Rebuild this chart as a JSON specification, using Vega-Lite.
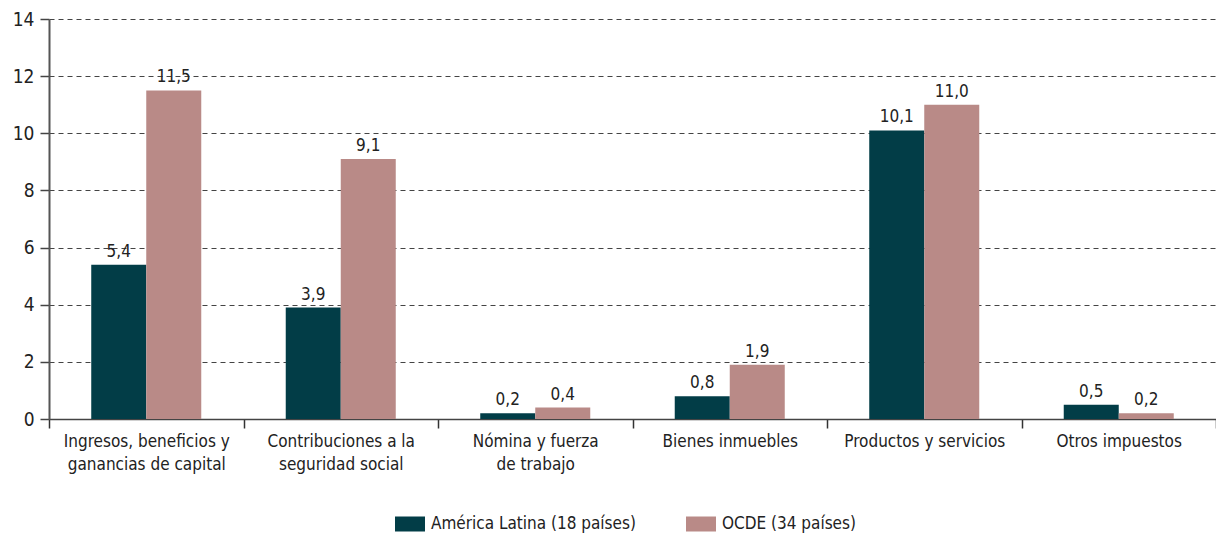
{
  "$schema": "https://vega.github.io/schema/vega-lite/v6.json",
  "width": 1167,
  "height": 400,
  "autosize": {"type": "none"},
  "padding": {"left": 49, "top": 19, "right": 0, "bottom": 117},
  "background": "white",
  "config": {
    "locale": {"number": {"decimal": ",", "thousands": ".", "grouping": [3], "currency": ["$", ""]}},
    "font": "DejaVu Sans Condensed, Roboto, sans-serif",
    "view": {"stroke": null}
  },
  "data": {
    "values": [
      {"categoria": "Ingresos, beneficios y|ganancias de capital", "serie": "América Latina (18 países)", "valor": 5.4},
      {"categoria": "Ingresos, beneficios y|ganancias de capital", "serie": "OCDE (34 países)", "valor": 11.5},
      {"categoria": "Contribuciones a la|seguridad social", "serie": "América Latina (18 países)", "valor": 3.9},
      {"categoria": "Contribuciones a la|seguridad social", "serie": "OCDE (34 países)", "valor": 9.1},
      {"categoria": "Nómina y fuerza|de trabajo", "serie": "América Latina (18 países)", "valor": 0.2},
      {"categoria": "Nómina y fuerza|de trabajo", "serie": "OCDE (34 países)", "valor": 0.4},
      {"categoria": "Bienes inmuebles", "serie": "América Latina (18 países)", "valor": 0.8},
      {"categoria": "Bienes inmuebles", "serie": "OCDE (34 países)", "valor": 1.9},
      {"categoria": "Productos y servicios", "serie": "América Latina (18 países)", "valor": 10.1},
      {"categoria": "Productos y servicios", "serie": "OCDE (34 países)", "valor": 11.0},
      {"categoria": "Otros impuestos", "serie": "América Latina (18 países)", "valor": 0.5},
      {"categoria": "Otros impuestos", "serie": "OCDE (34 países)", "valor": 0.2}
    ]
  },
  "encoding": {
    "x": {
      "field": "categoria",
      "type": "nominal",
      "sort": null,
      "scale": {"paddingInner": 0, "paddingOuter": 0},
      "axis": {
        "title": null,
        "labelAngle": 0,
        "labelExpr": "split(datum.label, '|')",
        "labelFontSize": 17,
        "labelColor": "#222",
        "labelPadding": 5,
        "labelLineHeight": 23,
        "labelLimit": 300,
        "tickBand": "extent",
        "tickSize": 9,
        "tickColor": "#333",
        "tickWidth": 1.5,
        "domainColor": "#444",
        "domainWidth": 1.5,
        "grid": false
      }
    },
    "xOffset": {
      "field": "serie",
      "type": "nominal",
      "scale": {"paddingInner": 0, "paddingOuter": 0.768}
    },
    "y": {
      "field": "valor",
      "type": "quantitative",
      "scale": {"domain": [0, 14], "nice": false},
      "axis": {
        "title": null,
        "values": [0, 2, 4, 6, 8, 10, 12, 14],
        "labelFontSize": 19,
        "labelColor": "#222",
        "labelPadding": 6,
        "tickSize": 9,
        "tickColor": "#444",
        "tickWidth": 1.5,
        "domainColor": "#555",
        "domainWidth": 2,
        "grid": true,
        "gridColor": "#444",
        "gridDash": [5, 4],
        "gridWidth": 1.2
      }
    }
  },
  "layer": [
    {
      "mark": {"type": "bar"},
      "encoding": {
        "color": {
          "field": "serie",
          "type": "nominal",
          "scale": {
            "domain": ["América Latina (18 países)", "OCDE (34 países)"],
            "range": ["#023d47", "#b98a87"]
          },
          "legend": {
            "title": null,
            "orient": "none",
            "legendX": 346,
            "legendY": 490,
            "padding": 0,
            "direction": "horizontal",
            "symbolType": "M-1,-0.5H1V0.5H-1Z",
            "symbolSize": 900,
            "symbolStrokeWidth": 0,
            "labelFontSize": 17,
            "labelColor": "#222",
            "labelOffset": 6,
            "labelLimit": 400,
            "columnPadding": 50
          }
        }
      }
    },
    {
      "mark": {"type": "text", "baseline": "alphabetic", "dy": -8, "fontSize": 17, "color": "#222"},
      "encoding": {
        "text": {"field": "valor", "type": "quantitative", "format": ".1f"}
      }
    }
  ]
}
